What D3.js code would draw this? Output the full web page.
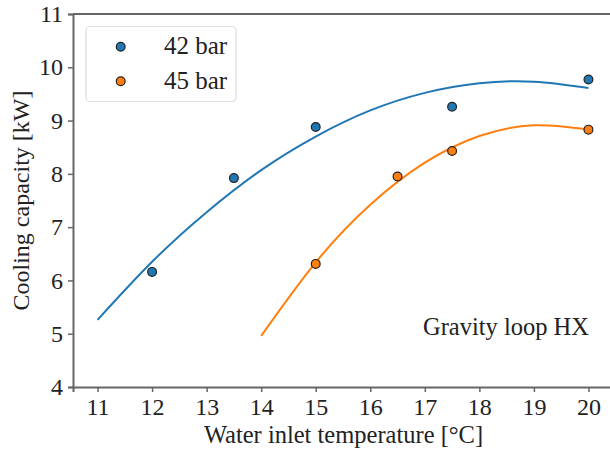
<!DOCTYPE html>
<html lang="en">
<head>
  <meta charset="UTF-8">
  <title>Cooling capacity</title>
  <script src="https://d3js.org/d3.v7.min.js"></script>
  <style>
    body { margin: 0; background: #fff; }
    text { font-family: "Liberation Serif", "DejaVu Serif", serif; fill: #222; }
  </style>
</head>
<body>
  <script>
    // measured points
    var temp42 = [12, 13.5, 15, 17.5, 20];
    var cap42 = [6.16, 7.92, 8.88, 9.26, 9.77];
    var temp45 = [15, 16.5, 17.5, 20];
    var cap45 = [6.31, 7.95, 8.43, 8.83];

    // fitted curves
    var fitX42 = [11, 12, 13, 14, 15, 16, 17, 18, 19, 20];
    var fitY42 = [5.26, 6.35, 7.28, 8.07, 8.70, 9.19, 9.52, 9.70, 9.73, 9.61];
    var fitX45 = [14, 15, 16, 17, 18, 19, 20];
    var fitY45 = [4.96, 6.34, 7.42, 8.21, 8.71, 8.91, 8.83];

    var xTicks = [11, 12, 13, 14, 15, 16, 17, 18, 19, 20];
    var yTicks = [4, 5, 6, 7, 8, 9, 10, 11];
    var seriesNames = ['42 bar', '45 bar'];
    var colors = ['#1f77b4', '#ff7f0e'];

    var width = 610, height = 451;
    var margin = { top: 14, left: 73, right: -3, bottom: 64 };

    var svg = d3.select('body').append('svg')
      .attr('width', width)
      .attr('height', height);

    var x = d3.scaleLinear()
      .domain([10.55, 20.45])
      .range([margin.left, width - margin.right]);
    var y = d3.scaleLinear()
      .domain([4, 11])
      .range([height - margin.bottom, margin.top]);

    var line = d3.line()
      .x(function (d) { return x(d[0]); })
      .y(function (d) { return y(d[1]); })
      .curve(d3.curveNatural);

    var fits = [d3.zip(fitX42, fitY42), d3.zip(fitX45, fitY45)];
    fits.forEach(function (f, i) {
      svg.append('path')
        .attr('d', line(f))
        .attr('fill', 'none')
        .attr('stroke', colors[i])
        .attr('stroke-width', 2);
    });

    var pts = [d3.zip(temp42, cap42), d3.zip(temp45, cap45)];
    pts.forEach(function (p, i) {
      svg.selectAll('.pt' + i)
        .data(p)
        .enter()
        .append('circle')
        .attr('cx', function (d) { return x(d[0]); })
        .attr('cy', function (d) { return y(d[1]); })
        .attr('r', 4.4)
        .attr('fill', colors[i])
        .attr('stroke', '#222')
        .attr('stroke-width', 1.2);
    });

    // axes
    var xAxis = svg.append('g')
      .attr('transform', 'translate(0,' + y(4) + ')')
      .call(d3.axisBottom(x).tickValues(xTicks).tickSize(5).tickPadding(6).tickFormat(d3.format('d')));
    var yAxis = svg.append('g')
      .attr('transform', 'translate(' + x(10.55) + ',0)')
      .call(d3.axisLeft(y).tickValues(yTicks).tickSize(5).tickPadding(5).tickFormat(d3.format('d')));

    [xAxis, yAxis].forEach(function (a) {
      a.attr('font-family', null).attr('font-size', null);
      a.select('.domain').attr('stroke', '#666').attr('stroke-width', 2);
      a.selectAll('.tick line').attr('stroke', '#666').attr('stroke-width', 1.5);
      a.selectAll('.tick text')
        .style('font-family', '"Liberation Serif", serif')
        .style('font-size', '24px')
        .style('fill', '#222');
    });

    // top spine
    svg.append('line')
      .attr('x1', x(10.55)).attr('x2', x(20.45))
      .attr('y1', y(11)).attr('y2', y(11))
      .attr('stroke', '#666').attr('stroke-width', 2);

    svg.append('text')
      .attr('x', 343.5)
      .attr('y', 443)
      .attr('text-anchor', 'middle')
      .attr('font-size', 24.5)
      .text('Water inlet temperature [°C]');

    svg.append('text')
      .attr('transform', 'translate(29,' + (y(7.5)) + ') rotate(-90)')
      .attr('text-anchor', 'middle')
      .attr('font-size', 24)
      .text('Cooling capacity [kW]');

    svg.append('text')
      .attr('x', 589)
      .attr('y', 334.5)
      .attr('text-anchor', 'end')
      .attr('font-size', 24.5)
      .text('Gravity loop HX');

    // legend
    var legend = svg.append('g');
    legend.append('rect')
      .attr('x', 86).attr('y', 26.5)
      .attr('width', 150).attr('height', 75)
      .attr('rx', 4)
      .attr('fill', '#fff')
      .attr('stroke', '#ddd')
      .attr('stroke-width', 1.2);
    seriesNames.forEach(function (name, i) {
      legend.append('circle')
        .attr('cx', 120.7).attr('cy', 46.8 + i * 34.5)
        .attr('r', 4.4)
        .attr('fill', colors[i])
        .attr('stroke', '#222')
        .attr('stroke-width', 1.2);
      legend.append('text')
        .attr('x', 164).attr('y', 54 + i * 34.5)
        .attr('font-size', 25)
        .text(name);
    });
  </script>
</body>
</html>
